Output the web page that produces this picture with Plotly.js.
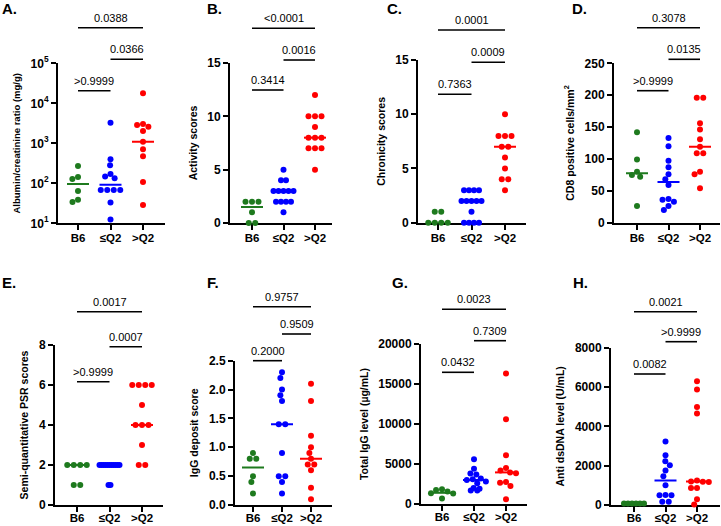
<!DOCTYPE html>
<html><head><meta charset="utf-8">
<script src="https://cdn.plot.ly/plotly-3.0.1.min.js"></script>
<style>html,body{margin:0;padding:0;background:#fff;}</style>
</head><body><div id="chart" style="width:721px;height:526px;"></div>
<script>
// ---------- DATA ----------
const groups = ['B6', '≤Q2', '>Q2'];

// A. Albumin/creatinine ratio (mg/g)
const albB6 = [271, 144, 128, 64, 39, 34];
const albLe = [3285, 398, 282, 171, 147, 133, 68, 68, 68, 68, 33, 12.4];
const albGt = [17800, 3040, 2870, 2610, 2040, 1100, 708, 473, 108, 28.7];
const albMed = [96, 92, 1100];
const albP = ['>0.9999', '0.0366', '0.0388'];

// B. Activity scores
const actB6 = [2, 2, 2, 1, 0, 0];
const actLe = [5, 4, 4, 3, 3, 3, 3, 3, 2, 2, 2, 2, 1];
const actGt = [12, 10, 10, 10, 9, 8, 8, 8, 7, 7, 7, 5];
const actMed = [1.5, 3, 8];
const actP = ['0.3414', '0.0016', '&lt;0.0001'];

// C. Chronicity scores
const chrB6 = [1, 1, 0, 0, 0, 0];
const chrLe = [3, 3, 3, 3, 2, 2, 2, 2, 2, 1, 0, 0, 0, 0];
const chrGt = [10, 8, 8, 8, 7, 7, 6, 5, 4, 4, 3];
const chrMed = [0, 2, 7];
const chrP = ['0.7363', '0.0009', '0.0001'];

// D. CD8 positive cells/mm2
const cd8B6 = [142, 99, 80, 75, 72, 26];
const cd8Le = [133, 120, 97, 87, 76, 68, 59, 37, 36, 33, 26, 20];
const cd8Gt = [196, 196, 156, 146, 131, 119, 109, 109, 80, 76, 54];
const cd8Med = [77.5, 64, 119];
const cd8P = ['>0.9999', '0.0135', '0.3078'];

// E. Semi-quantitative PSR scores
const psrB6 = [2, 2, 2, 2, 1, 1];
const psrLe = [2, 2, 2, 2, 2, 2, 2, 2, 2, 2, 2, 1, 1];
const psrGt = [6, 6, 6, 6, 5, 4, 4, 4, 3, 2, 2];
const psrMed = [2, 2, 4];
const psrP = ['>0.9999', '0.0007', '0.0017'];

// F. IgG deposit score
const igdB6 = [0.9, 0.8, 0.8, 0.5, 0.4, 0.2];
const igdLe = [2.3, 2.2, 2.0, 1.9, 1.8, 1.4, 1.4, 0.9, 0.5, 0.5, 0.4, 0.2];
const igdGt = [2.1, 1.8, 1.2, 1.0, 0.9, 0.8, 0.7, 0.7, 0.6, 0.3, 0.1];
const igdMed = [0.65, 1.4, 0.8];
const igdP = ['0.2000', '0.9509', '0.9757'];

// G. Total IgG level (µg/mL)
const tigB6 = [1850, 1750, 1550, 1350, 1300, 700];
const tigLe = [5600, 4400, 3800, 3700, 3200, 3100, 3000, 2800, 2600, 2000, 1900, 1700, 1700];
const tigGt = [16300, 10600, 6100, 4500, 4200, 3950, 3850, 2750, 2650, 2250, 580];
const tigMed = [1400, 3000, 3950];
const tigP = ['0.0432', '0.7309', '0.0023'];

// H. Anti dsDNA level (U/mL)
const dnaB6 = [80, 80, 80, 80, 80, 80];
const dnaLe = [3230, 2525, 2220, 2020, 1750, 1465, 1010, 505, 500, 490, 170, 170];
const dnaGt = [6300, 5880, 4980, 4650, 1250, 1200, 1180, 1170, 870, 860, 290, 20];
const dnaMed = [85, 1240, 1200];
const dnaP = ['0.0082', '>0.9999', '0.0021'];

// ---------- LAYOUT CONFIG ----------
const W = 721, H = 526;
const colors = ['rgb(30,122,30)', 'rgb(0,0,255)', 'rgb(255,0,0)'];
const FONT = 'Liberation Sans, Arial, sans-serif';

const panels = [
  {lab:'A.', data:[albB6, albLe, albGt], med:albMed, p:albP, title:'Albumin/creatinine ratio (mg/g)', tsize:9.5,
   log:true, range:[1,5], tickvals:[10,100,1000,10000,100000],
   ticktext:['10<sup>1</sup>','10<sup>2</sup>','10<sup>3</sup>','10<sup>4</sup>','10<sup>5</sup>'],
   px:{L:58,R:165,T:63.3,B:223.3,c0:78,s:32.5}, br:[90.7,59.3,27.7], labPos:[0,9], xso:-2},
  {lab:'B.', data:[actB6, actLe, actGt], med:actMed, p:actP, title:'Activity scores', tsize:10.5,
   range:[0,15], dtick:5, px:{L:230,R:332,T:63,B:223,c0:252,s:31.5}, br:[90,60,28.3], labPos:[205,9], xso:-2},
  {lab:'C.', data:[chrB6, chrLe, chrGt], med:chrMed, p:chrP, title:'Chronicity scores', tsize:10.5,
   range:[0,15], dtick:5, px:{L:418,R:526,T:60,B:222.7,c0:438,s:33.5}, br:[94.3,62.3,30], labPos:[385,9], xso:-2},
  {lab:'D.', data:[cd8B6, cd8Le, cd8Gt], med:cd8Med, p:cd8P, title:'CD8 positive cells/mm<sup>2</sup>', tsize:10.5,
   range:[0,250], dtick:50, px:{L:614,R:720,T:63.3,B:222.7,c0:637,s:31.5}, br:[90.7,59.3,27.7], labPos:[570,9], xso:-2},
  {lab:'E.', data:[psrB6, psrLe, psrGt], med:psrMed, p:psrP, title:'Semi-quantitative PSR scores', tsize:10.5,
   range:[0,8], dtick:2, px:{L:55,R:163,T:345,B:505,c0:77,s:32.5}, br:[381.7,346.7,311.7], labPos:[0,282], xso:-4},
  {lab:'F.', data:[igdB6, igdLe, igdGt], med:igdMed, p:igdP, title:'IgG deposit score', tsize:10.5,
   range:[0,2.5], dtick:0.5, tickformat:'.1f', px:{L:235,R:332,T:360.7,B:505,c0:253,s:29}, br:[360.7,334,306.7], labPos:[205,282], xso:-4},
  {lab:'G.', data:[tigB6, tigLe, tigGt], med:tigMed, p:tigP, title:'Total IgG level (µg/mL)', tsize:10.5,
   range:[0,20000], dtick:5000, tickformat:'d', px:{L:421,R:527,T:344,B:504,c0:442,s:32}, br:[372.3,340.7,309.3], labPos:[390,282], xso:-4},
  {lab:'H.', data:[dnaB6, dnaLe, dnaGt], med:dnaMed, p:dnaP, title:'Anti dsDNA level (U/mL)', tsize:10.5,
   range:[0,8000], dtick:2000, tickformat:'d', px:{L:611,R:720,T:347.7,B:505,c0:634,s:31.5}, br:[374,341.7,311.7], labPos:[571,282], xso:-4}
];

// beeswarm offsets (pixels) computed from values
function swarm(vals, pxOf, D, s, Wmax) {
  const idx = vals.map((v,i)=>i).sort((a,b)=>vals[b]-vals[a]);
  const counts = {};
  vals.forEach(v => counts[v] = (counts[v]||0)+1);
  const maxEq = Math.max(...Object.values(counts));
  const sp = maxEq > 1 ? Math.min(s, 2*Wmax/(maxEq-1)) : s;
  const placed = [], off = new Array(vals.length).fill(0);
  let k = 0;
  while (k < idx.length) {
    const v = vals[idx[k]];
    let j = k; while (j < idx.length && vals[idx[j]] === v) j++;
    const n = j - k, y = pxOf(v);
    if (n > 1) {
      for (let m = 0; m < n; m++) { const x = (m - (n-1)/2)*sp; off[idx[k+m]] = x; placed.push({x, y}); }
    } else {
      const c = [0];
      placed.forEach(p => { const dy = Math.abs(p.y-y); if (dy < D) { const dx = Math.sqrt(D*D-dy*dy); c.push(p.x-dx, p.x+dx); } });
      c.sort((a,b)=> Math.abs(a)-Math.abs(b) || a-b);
      let best = 0;
      for (const cc of c) { if (placed.every(p => (p.x-cc)**2 + (p.y-y)**2 >= D*D - 1e-6)) { best = cc; break; } }
      off[idx[k]] = best; placed.push({x:best, y});
    }
    k = j;
  }
  return off;
}

const traces = [], shapes = [], annotations = [];
const layout = {
  width: W, height: H, margin:{l:0,r:0,t:0,b:0}, showlegend:false,
  paper_bgcolor:'#fff', plot_bgcolor:'rgba(0,0,0,0)',
  font:{family:FONT, color:'#000'}, shapes, annotations
};

panels.forEach((P, pi) => {
  const n = pi + 1, xa = 'x' + (n===1?'':n), ya = 'y' + (n===1?'':n);
  const xk = 'xaxis' + (n===1?'':n), yk = 'yaxis' + (n===1?'':n);
  const g = P.px;
  const hpx = g.B - g.T;
  const xr = [(g.L - g.c0)/g.s, (g.R - g.c0)/g.s];
  layout[xk] = {
    domain:[g.L/W, g.R/W], range:xr, anchor:ya, tickmode:'array', tickvals:[0,1,2], ticktext:groups,
    showline:true, linecolor:'#000', linewidth:2, ticks:'outside', ticklen:5, tickwidth:2, tickcolor:'#000',
    showgrid:false, zeroline:false, fixedrange:true, layer:'below traces', ticklabelstandoff:P.xso,
    tickfont:{family:FONT, size:11.5, weight:700, color:'#000'}
  };
  const yax = {
    domain:[1 - g.B/H, 1 - g.T/H], range:P.range, anchor:xa,
    showline:true, linecolor:'#000', linewidth:2, ticks:'outside', ticklen:5, tickwidth:2, tickcolor:'#000',
    showgrid:false, zeroline:false, fixedrange:true, layer:'below traces',
    tickfont:{family:FONT, size:12, weight:700, color:'#000'},
    title:{text:P.title, font:{family:FONT, size:P.tsize, weight:700, color:'#000'}, standoff:8}
  };
  if (P.log) { yax.type='log'; yax.tickmode='array'; yax.tickvals=P.tickvals; yax.ticktext=P.ticktext; }
  else { yax.tick0 = 0; yax.dtick = P.dtick; yax.exponentformat='none'; if (P.tickformat) yax.tickformat = P.tickformat; }
  layout[yk] = yax;

  const pxOf = v => P.log ? hpx*(Math.log10(v)-P.range[0])/(P.range[1]-P.range[0])
                          : hpx*(v-P.range[0])/(P.range[1]-P.range[0]);
  P.data.forEach((vals, gi) => {
    const off = swarm(vals, pxOf, 6, 6.5, 10);
    traces.push({
      type:'scatter', mode:'markers', xaxis:xa, yaxis:ya,
      x: vals.map((v,i)=> gi + off[i]/g.s), y: vals,
      marker:{size:6, color:colors[gi], line:{width:0}}, cliponaxis:false, hoverinfo:'skip'
    });
    const hw = 11/g.s;
    traces.push({
      type:'scatter', mode:'lines', xaxis:xa, yaxis:ya,
      x:[gi-hw, gi+hw], y:[P.med[gi], P.med[gi]],
      line:{color:colors[gi], width:2}, cliponaxis:false, hoverinfo:'skip'
    });
  });

  // significance brackets: [B6 vs ≤Q2], [≤Q2 vs >Q2], [B6 vs >Q2]
  const pairs = [[0,1],[1,2],[0,2]];
  pairs.forEach((pr, bi) => {
    const yl = 1 - P.br[bi]/H;
    shapes.push({type:'line', xref:xa, yref:'paper', x0:pr[0], x1:pr[1], y0:yl, y1:yl, line:{color:'#000', width:1.6}});
    annotations.push({xref:xa, yref:'paper', x:(pr[0]+pr[1])/2, y:1 - (P.br[bi]-10)/H, text:P.p[bi],
      showarrow:false, xanchor:'center', yanchor:'middle', font:{family:FONT, size:11, color:'#000'}});
  });
  annotations.push({xref:'paper', yref:'paper', x:P.labPos[0]/W, y:1 - P.labPos[1]/H, text:'<b>'+P.lab+'</b>',
    showarrow:false, xanchor:'left', yanchor:'middle', font:{family:FONT, size:15, weight:700, color:'#000'}});
});

Plotly.newPlot('chart', traces, layout, {staticPlot:true, displayModeBar:false});
</script></body></html>
